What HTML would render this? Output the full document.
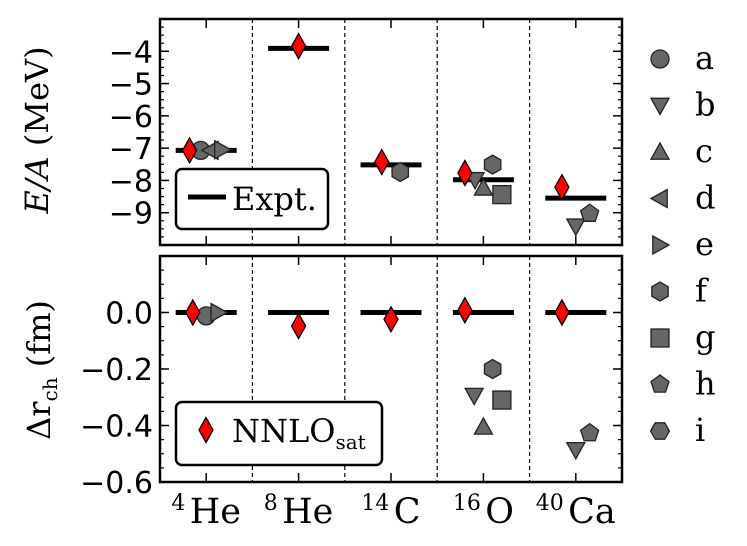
<!DOCTYPE html>
<html><head><meta charset="utf-8"><style>
html,body{margin:0;padding:0;background:#fff;}
svg{display:block;}
.tk{font-family:"DejaVu Sans","Liberation Sans",sans-serif;font-size:30px;fill:#000;}
.sf{font-family:"DejaVu Serif","Liberation Serif",serif;fill:#000;}
</style></head><body>
<svg id="chart" width="747" height="546" viewBox="0 0 747 546" xmlns="http://www.w3.org/2000/svg"></svg>
<script>
const nuclei = ["4He","8He","14C","16O","40Ca"];
const nucleusMass = ["4","8","14","16","40"];
const nucleusSymbol = ["He","He","C","O","Ca"];
const exptEnergy = [-7.07,-3.91,-7.52,-7.98,-8.55];
const exptRadius = [0,0,0,0,0];
const nnloEnergy = [-7.07,-3.84,-7.43,-7.77,-8.21];
const nnloEnergyOffset = [-0.18,0,-0.1,-0.2,-0.15];
const nnloRadius = [0.0,-0.048,-0.024,0.008,0.0];
const nnloRadiusOffset = [-0.145,0,0,-0.2,-0.15];
// other methods: [nucleusIndex, xOffset, value, marker]
const otherEnergy = [
 [0,-0.06,-7.07,"a"],[0,0.05,-7.07,"d"],[0,0.17,-7.05,"e"],
 [2,0.1,-7.74,"f"],
 [3,-0.09,-7.98,"b"],[3,0,-8.23,"c"],[3,0.1,-7.51,"f"],[3,0.2,-8.44,"g"],
 [4,0,-9.42,"b"],[4,0.15,-9.03,"h"]
];
const otherRadius = [
 [0,0,-0.012,"a"],[0,0.13,0.0,"e"],
 [3,0.1,-0.2,"f"],[3,-0.1,-0.294,"b"],[3,0.2,-0.31,"g"],[3,0,-0.405,"c"],
 [4,0,-0.486,"b"],[4,0.15,-0.427,"h"]
];
const energyTicks = [-4,-5,-6,-7,-8,-9];
const energyTickLabels = ["\u22124","\u22125","\u22126","\u22127","\u22128","\u22129"];
const radiusTicks = [0.0,-0.2,-0.4,-0.6];
const radiusTickLabels = ["0.0","\u22120.2","\u22120.4","\u22120.6"];
const legendKeys = ["a","b","c","d","e","f","g","h","i"];

const NS="http://www.w3.org/2000/svg";
const svg=document.getElementById('chart');
function mk(tag,attrs,parent){const e=document.createElementNS(NS,tag);for(const k in attrs)e.setAttribute(k,attrs[k]);(parent||svg).appendChild(e);return e;}
const X0=160,X1=622;
const xs=i=>X0+(i+0.5)*(X1-X0)/5;
const pTop={y0:19,y1:245,min:-10,max:-3};
const pBot={y0:256,y1:482,min:-0.6,max:0.2};
const ys=(p,v)=>p.y1-(v-p.min)/(p.max-p.min)*(p.y1-p.y0);

function marker(type,cx,cy,g){
  const s=9;let e;const st={fill:'#666',stroke:'#222','stroke-width':1.3};
  const poly=(pts)=>mk('polygon',Object.assign({points:pts.map(p=>(cx+p[0])+','+(cy+p[1])).join(' ')},st),g);
  const ngon=(n,r,rot)=>{const p=[];for(let k=0;k<n;k++){const a=rot+k*2*Math.PI/n;p.push([r*Math.cos(a),r*Math.sin(a)]);}return poly(p);};
  switch(type){
    case 'a':e=mk('circle',Object.assign({cx:cx,cy:cy,r:s},st),g);break;
    case 'b':e=poly([[-s,-s*0.8],[s,-s*0.8],[0,s*1.0]]);break;
    case 'c':e=poly([[-s,s*0.8],[s,s*0.8],[0,-s*1.0]]);break;
    case 'd':e=poly([[s*0.8,-s],[s*0.8,s],[-s,0]]);break;
    case 'e':e=poly([[-s*0.8,-s],[-s*0.8,s],[s,0]]);break;
    case 'f':e=ngon(6,s*1.05,-Math.PI/2);break;
    case 'g':e=mk('rect',Object.assign({x:cx-s,y:cy-s,width:2*s,height:2*s},st),g);break;
    case 'h':e=ngon(5,s*1.05,-Math.PI/2);break;
    case 'i':e=ngon(6,s*1.05,0);break;
    case 'D':e=poly([[-7,0],[0,-12.5],[7,0],[0,12.5]]);e.setAttribute('fill','#ff0000');e.setAttribute('stroke','#000');break;
  }
  return e;
}

function panel(p,name,ticks,labels,minorStep){
  const g=mk('g',{});
  
  
  for(let i=1;i<5;i++){const x=X0+i*(X1-X0)/5;const l=mk('line',{x1:x,x2:x,y1:p.y0,y2:p.y1,stroke:'#000','stroke-width':1.2,'stroke-dasharray':'4,3'},g);}
  for(let v=p.min;v<=p.max+1e-9;v+=minorStep){const y=ys(p,v);mk('line',{x1:X0,x2:X0+4,y1:y,y2:y,stroke:'#000','stroke-width':1.2},g);mk('line',{x1:X1,x2:X1-4,y1:y,y2:y,stroke:'#000','stroke-width':1.2},g);}
  ticks.forEach((v,i)=>{const y=ys(p,v);
    mk('line',{x1:X0,x2:X0+9,y1:y,y2:y,stroke:'#000','stroke-width':1.5},g);
    mk('line',{x1:X1,x2:X1-9,y1:y,y2:y,stroke:'#000','stroke-width':1.5},g);
    const t=mk('text',{x:153,y:y+11,'text-anchor':'end',class:'tk'},g);t.textContent=labels[i];
    });
  for(let i=0;i<5;i++){const x=xs(i);mk('line',{x1:x,x2:x,y1:p.y0,y2:p.y0+9,stroke:'#000','stroke-width':1.5},g);mk('line',{x1:x,x2:x,y1:p.y1,y2:p.y1-9,stroke:'#000','stroke-width':1.5},g);}
  return g;
}
const gT=panel(pTop,'energy',energyTicks,energyTickLabels,0.25);
const gB=panel(pBot,'radius',radiusTicks,radiusTickLabels,0.05);

function series(g,p,expt,nnlo,nnloOff,others){
  const hw=0.33*(X1-X0)/5;
  expt.forEach((v,i)=>{const l=mk('line',{x1:xs(i)-hw,x2:xs(i)+hw,y1:ys(p,v),y2:ys(p,v),stroke:'#000','stroke-width':5},g);
    });
  others.forEach(o=>{const m=marker(o[3],xs(o[0]+o[1]),ys(p,o[2]),g);
    });
  nnlo.forEach((v,i)=>{const m=marker('D',xs(i+nnloOff[i]),ys(p,v),g);
    });
}
series(gT,pTop,exptEnergy,nnloEnergy,nnloEnergyOffset,otherEnergy);
series(gB,pBot,exptRadius,nnloRadius,nnloRadiusOffset,otherRadius);

[pTop,pBot].forEach(p=>{const r=mk('rect',{x:X0,y:p.y0,width:X1-X0,height:p.y1-p.y0,fill:'none',stroke:'#000','stroke-width':2.5});});

nuclei.forEach((n,i)=>{const t=mk('text',{x:xs(i),y:523,'text-anchor':'middle',class:'sf','font-size':35});
  const s1=mk('tspan',{'font-size':22,dy:-13},t);s1.textContent=nucleusMass[i]+'\u2009';
  const s2=mk('tspan',{dy:13},t);s2.textContent=nucleusSymbol[i];
  });

let yt=mk('text',{x:0,y:0,transform:'translate(48,130) rotate(-90)','text-anchor':'middle',class:'sf','font-size':32});
let a1=mk('tspan',{'font-style':'italic'},yt);a1.textContent='E/A';let a2=mk('tspan',{},yt);a2.textContent=' (MeV)';

yt=mk('text',{x:0,y:0,transform:'translate(50,370) rotate(-90)','text-anchor':'middle',class:'sf','font-size':32});
a1=mk('tspan',{},yt);a1.textContent='\u0394r';a2=mk('tspan',{'font-size':20,dy:7},yt);a2.textContent='ch';
let a3=mk('tspan',{dy:-7},yt);a3.textContent='  (fm)';


let lg=mk('g',{});
mk('rect',{x:176,y:169,width:152,height:60,rx:6,fill:'#fff',stroke:'#000','stroke-width':2.5},lg);
mk('line',{x1:188,x2:226,y1:197,y2:197,stroke:'#000','stroke-width':5},lg);
let lt=mk('text',{x:232,y:210,class:'sf','font-size':32},lg);lt.textContent='Expt.';
lg=mk('g',{});
mk('rect',{x:176,y:402,width:206,height:63,rx:6,fill:'#fff',stroke:'#000','stroke-width':2.5},lg);
marker('D',206,430,lg);
lt=mk('text',{x:232,y:442,class:'sf','font-size':32},lg);
let l1=mk('tspan',{},lt);l1.textContent='NNLO';let l2=mk('tspan',{'font-size':20,dy:7},lt);l2.textContent='sat';

legendKeys.forEach((k,i)=>{const y=59+i*46.5;const g=mk('g',{});
  
  marker(k,660,y,g);const t=mk('text',{x:695,y:y+10,class:'sf','font-size':32},g);t.textContent=k;});
</script>
</body></html>
